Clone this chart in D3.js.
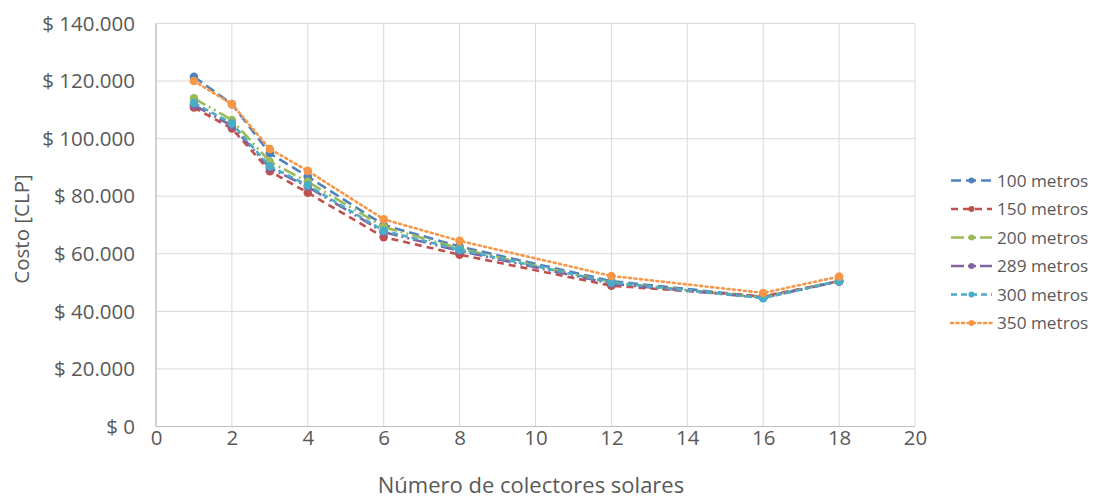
<!DOCTYPE html>
<html>
<head>
<meta charset="utf-8">
<script src="https://cdn.jsdelivr.net/npm/d3@7"></script>
<style>
  html, body { margin: 0; padding: 0; background: #fff; }
  svg { display: block; font-family: "Open Sans", "Noto Sans", sans-serif; }
</style>
</head>
<body>
<svg id="chart" width="1093" height="501"></svg>
<script>
// ---- Data ----
const xValues = [1, 2, 3, 4, 6, 8, 12, 16, 18];
const seriesNames = ["100 metros", "150 metros", "200 metros", "289 metros", "300 metros", "350 metros"];
const s100 = [121500, 112000, 94900, 86800, 70000, 62500, 50500, 45000, 50500];
const s150 = [110800, 103500, 88700, 81200, 65800, 59700, 48900, 45200, 50500];
const s200 = [114000, 106500, 92000, 85000, 69300, 61800, 50000, 44800, 50600];
const s289 = [111600, 104500, 89800, 83300, 67500, 61000, 49600, 44700, 50400];
const s300 = [112400, 105300, 90400, 83800, 68000, 61400, 50000, 44600, 50500];
const s350 = [120000, 112000, 96400, 88800, 72000, 64500, 52300, 46400, 52100];
const seriesValues = [s100, s150, s200, s289, s300, s350];
const xTicks = [0, 2, 4, 6, 8, 10, 12, 14, 16, 18, 20];
const yTicks = [0, 20000, 40000, 60000, 80000, 100000, 120000, 140000];
const yTickLabels = ["$ 0", "$ 20.000", "$ 40.000", "$ 60.000", "$ 80.000", "$ 100.000", "$ 120.000", "$ 140.000"];
const xTitle = "Número de colectores solares";
const yTitle = "Costo [CLP]";

(function () {
// ---- Styles ----
const colors = ["#4F81BD", "#C0504D", "#9BBB59", "#8064A2", "#4BACC6", "#F79646"];
const dashes = ["10,5", "7,5", "13,4,2,4,2,4", "13,4,2,4,2,4", "6,4", "2,3.5"];
const caps = ["butt", "butt", "butt", "butt", "butt", "round"];

const svg = d3.select("#chart");
const pL = 156, pR = 915, pT = 23.5, pB = 426.5;

const x = d3.scaleLinear().domain([0, 20]).range([pL, pR]);
const y = d3.scaleLinear().domain([0, 140000]).range([pB, pT]);

// gridlines
svg.append("g").selectAll("line").data(yTicks).join("line")
  .attr("x1", pL).attr("x2", pR)
  .attr("y1", d => y(d)).attr("y2", d => y(d))
  .attr("stroke", "#D9D9D9").attr("stroke-width", 1);
svg.append("g").selectAll("line").data(xTicks).join("line")
  .attr("y1", pT).attr("y2", pB)
  .attr("x1", d => x(d)).attr("x2", d => x(d))
  .attr("stroke", "#D9D9D9").attr("stroke-width", 1);
// axis lines
svg.append("line").attr("x1", pL).attr("x2", pL).attr("y1", pT).attr("y2", pB)
  .attr("stroke", "#BFBFBF").attr("stroke-width", 1.2);
svg.append("line").attr("x1", pL).attr("x2", pR).attr("y1", pB).attr("y2", pB)
  .attr("stroke", "#BFBFBF").attr("stroke-width", 1.2);

// axes labels using d3 axes
const yAxis = d3.axisLeft(y).tickValues(yTicks).tickSize(0).tickPadding(0)
  .tickFormat((d, i) => yTickLabels[i]);
const gy = svg.append("g").attr("transform", `translate(${pL - 21},0)`).call(yAxis);
gy.select(".domain").remove();
gy.selectAll("text").attr("fill", "#595959").style("font-size", "20.5px")
  .style("font-family", "'Open Sans', sans-serif").attr("dy", "0.33em");

const xAxis = d3.axisBottom(x).tickValues(xTicks).tickSize(0).tickPadding(0).tickFormat(d3.format("d"));
const gx = svg.append("g").attr("transform", `translate(0,${pB + 4})`).call(xAxis);
gx.select(".domain").remove();
gx.selectAll("text").attr("fill", "#595959").style("font-size", "20.5px")
  .style("font-family", "'Open Sans', sans-serif").attr("dy", "0.71em");

// titles
svg.append("text").attr("x", 531).attr("y", 493)
  .attr("text-anchor", "middle").attr("fill", "#595959").style("font-size", "22px").text(xTitle);
svg.append("text").attr("transform", `translate(29,${(pT + pB) / 2 + 4}) rotate(-90)`)
  .attr("text-anchor", "middle").attr("fill", "#595959").style("font-size", "20.5px").text(yTitle);

// series
const line = d3.line().x((d, i) => x(xValues[i])).y(d => y(d));
seriesValues.forEach((vals, si) => {
  const g = svg.append("g");
  g.append("path").datum(vals).attr("d", line)
    .attr("fill", "none").attr("stroke", colors[si]).attr("stroke-width", 2.6)
    .attr("stroke-dasharray", dashes[si]).attr("stroke-linecap", caps[si]);
  g.selectAll("circle").data(vals).join("circle")
    .attr("cx", (d, i) => x(xValues[i])).attr("cy", d => y(d))
    .attr("r", 4.3).attr("fill", colors[si]);
});

// legend
const legY0 = 180.5, legStep = 28.5;
const lg = svg.append("g");
seriesNames.forEach((name, si) => {
  const yy = legY0 + si * legStep;
  lg.append("line").attr("x1", 951).attr("x2", 992).attr("y1", yy).attr("y2", yy)
    .attr("stroke", colors[si]).attr("stroke-width", 2.6)
    .attr("stroke-dasharray", dashes[si]).attr("stroke-linecap", caps[si]);
  lg.append("circle").attr("cx", 971.5).attr("cy", yy).attr("r", 3).attr("fill", colors[si]);
  lg.append("text").attr("x", 997).attr("y", yy).attr("dy", "0.35em")
    .attr("fill", "#595959").style("font-size", "17.2px").text(name);
});
})();
</script>
</body>
</html>
